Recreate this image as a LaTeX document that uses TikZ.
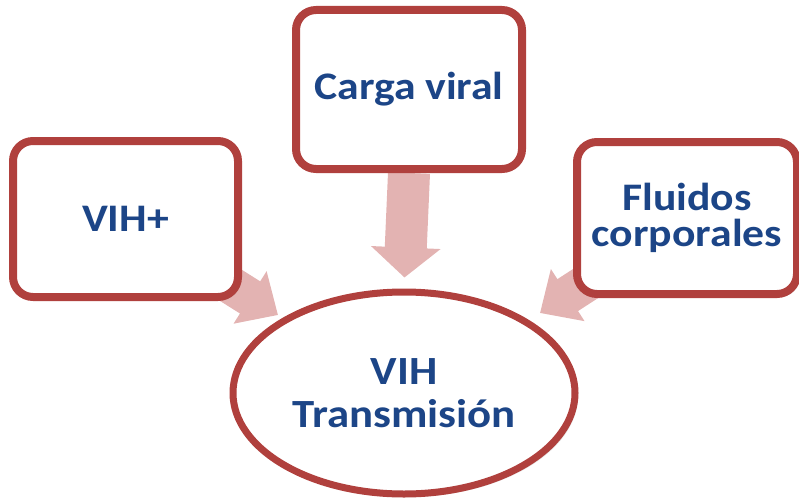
\documentclass[tikz,border=0pt]{standalone}
\usepackage{fontspec}
\setmainfont{Carlito}[FakeStretch=1.12]
\usetikzlibrary{shapes.geometric}
\usetikzlibrary{arrows.meta}
\usetikzlibrary{backgrounds,shadows}
\definecolor{boxred}{HTML}{B0403D}
\definecolor{arrowpink}{HTML}{E3B3B2}
\definecolor{textblue}{HTML}{1C4587}
\tikzset{
  topicbox/.style={draw=boxred, line width=8pt, fill=white, rounded corners=20pt,
    align=center, text=textblue, font=\fontsize{39}{36}\selectfont\bfseries,
    drop shadow={opacity=0.18, shadow xshift=3pt, shadow yshift=-3pt}},
  mainellipse/.style={ellipse, draw=boxred, line width=7pt, fill=white,
    align=center, text=textblue, font=\fontsize{40}{43}\selectfont\bfseries,
    drop shadow={opacity=0.18, shadow xshift=3pt, shadow yshift=-3pt}},
  blockarrow/.style={draw=arrowpink, line width=42pt,
    -{Triangle[length=30pt, width=68pt]}},
  sidearrow/.style={draw=arrowpink, line width=38pt,
    -{Triangle[length=33pt, width=60pt]}}
}
\begin{document}
\begin{tikzpicture}[x=1pt,y=-1pt]
\useasboundingbox (0,0) rectangle (799,500);
% boxes
\node[topicbox, minimum width=225pt, minimum height=156pt] (vih) at (125.5,219) {VIH+};
\node[topicbox, minimum width=226pt, minimum height=159pt] (carga) at (409,89.5) {Carga viral};
\node[topicbox, minimum width=220pt, minimum height=152pt] (fluidos) at (687,218) {Fluidos\\corporales};
\node[mainellipse, minimum width=342pt, minimum height=202pt] (trans) at (404,393) {VIH\\Transmisión};
% arrow tips
\coordinate (vihtip) at (278,315);
\coordinate (fluidostip) at (540,313);
\begin{scope}[on background layer]
\draw[blockarrow, shorten >=11pt] (carga.south) -- (trans.north);
\draw[sidearrow] (vih.center) -- (vihtip);
\draw[sidearrow] (fluidos.center) -- (fluidostip);
\end{scope}
\end{tikzpicture}
\end{document}
